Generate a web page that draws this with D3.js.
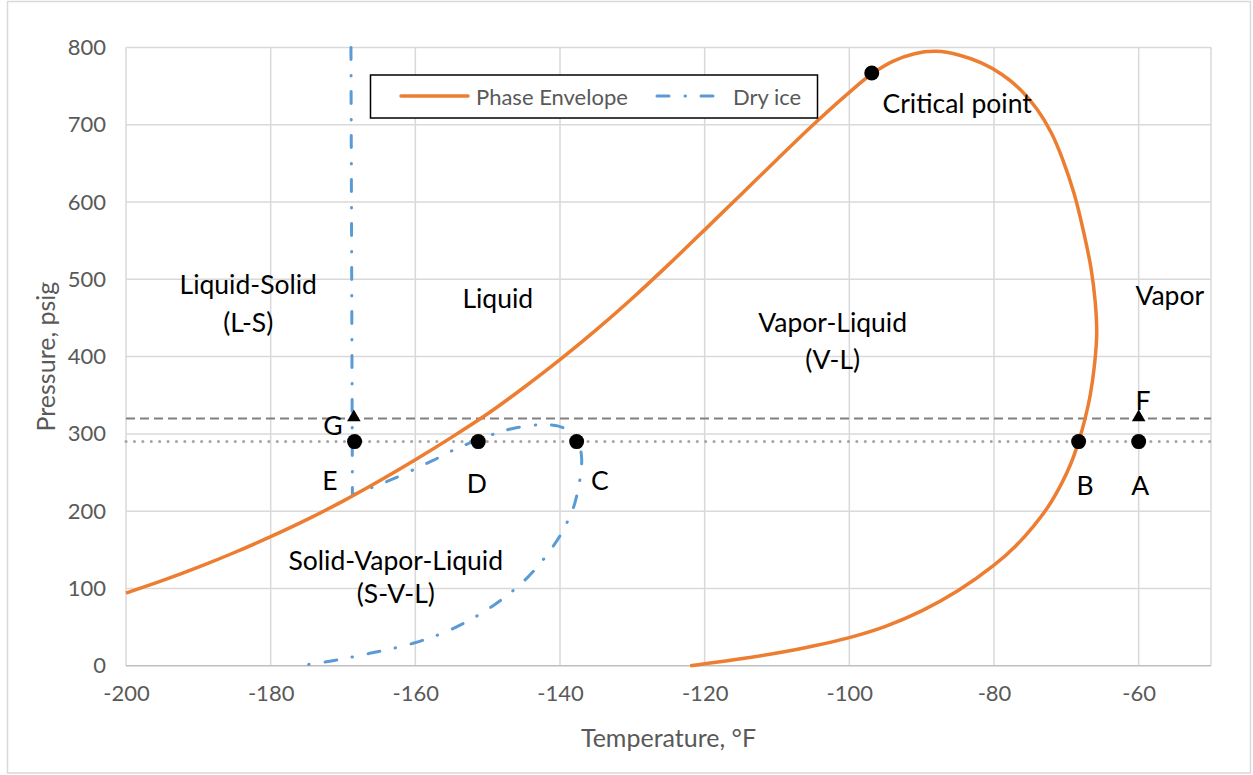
<!DOCTYPE html>
<html>
<head>
<meta charset="utf-8">
<script src="https://cdn.jsdelivr.net/npm/d3@7"></script>
<style>
  html, body { margin: 0; padding: 0; background: #fff; }
  svg { display: block; }
  text { font-family: Lato, "Open Sans", sans-serif; }
</style>
</head>
<body>
<svg id="chart" width="1253" height="775"></svg>
<script>
// CO2-rich mixture phase envelope (temperature °F vs pressure psig),
// bubble-point branch up to the cricondenbar, then dew-point branch back down
const envelopeT = [-200, -195, -190, -185, -180, -175, -170, -165, -160, -155, -150, -145, -140,
  -135, -130, -125, -120, -115, -110, -105, -100, -97, -94, -91, -88, -84.75, -81.75, -78.9,
  -76.3, -74.05, -72.1, -70.5, -68.9, -67.7, -66.6, -66, -65.8, -66.1, -66.7, -67.4, -68.3,
  -69.4, -70.7, -72.5, -74.5, -77, -80, -85, -90, -95, -100, -105, -110, -115, -120, -122];
const envelopeP = [94, 110, 127.5, 146.5, 167, 189, 213, 239, 266.5, 295.5, 326, 360, 396,
  434.5, 475.5, 519, 564, 609.5, 655, 700, 742, 765, 782, 792, 795, 790, 780, 765,
  745, 720, 690, 655, 610, 565, 515, 470, 430, 390, 350, 320, 290,
  261, 235, 206, 181, 155, 130, 97, 71, 51, 36.4, 25.4, 16.4, 8.9, 2.4, 0];

// Dry ice (solid CO2) boundary
const dryIceT = [-168.9, -168.7, -163.5, -157.7, -154.3, -149.7, -146.5, -143.2, -140.2, -138.4,
  -137.5, -137.0, -137.9, -139.1, -140.7, -144.4, -149.2, -154.8, -160.3, -166.3, -172.3, -176.2];
const dryIceP = [800, 221, 240, 265, 281, 298, 307, 311.5, 310, 301,
  290, 266, 212, 184, 158, 115, 78, 48, 29, 16, 5, 0];

// Operating pressures (psig)
const lowPressure = 290;
const highPressure = 320;

// State points
const circleNames = ["A", "B", "C", "D", "E", "Critical point"];
const circleT = [-60, -68.3, -137.7, -151.3, -168.4, -96.9];
const circleP = [290, 290, 290, 290, 290, 767];
const triangleNames = ["F", "G"];
const triangleT = [-60, -168.5];
const triangleP = [320, 320];

// Text labels placed at (temperature, pressure)
const labelText = ["Liquid-Solid", "(L-S)", "Liquid", "Vapor-Liquid", "(V-L)", "Vapor",
  "Critical point", "Solid-Vapor-Liquid", "(S-V-L)", "G", "E", "D", "C", "B", "A", "F"];
const labelT = [-183.1, -183.1, -148.6, -102.3, -102.3, -55.7,
  -95.4, -162.7, -162.7, -171.4, -171.8, -151.5, -134.5, -67.4, -59.8, -59.4];
const labelP = [494, 445, 476, 445, 397, 480,
  728, 137, 94, 312, 240, 236, 240, 234, 234, 344];
const labelAnchor = ["middle", "middle", "middle", "middle", "middle", "middle",
  "start", "middle", "middle", "middle", "middle", "middle", "middle", "middle", "middle", "middle"];

// Axis ticks
const xTicks = [-200, -180, -160, -140, -120, -100, -80, -60];
const xGrid = [-200, -180, -160, -140, -120, -100, -80, -60, -50];
const yTicks = [0, 100, 200, 300, 400, 500, 600, 700, 800];

const svg = d3.select("#chart");
const W = 1253, H = 775;
const plot = { left: 126, right: 1211, top: 47.5, bottom: 665.7 };

const x = d3.scaleLinear().domain([-200, -50]).range([plot.left, plot.right]);
const y = d3.scaleLinear().domain([0, 800]).range([plot.bottom, plot.top]);

// chart-area border
svg.append("rect")
  .attr("x", 7.5).attr("y", 1.5).attr("width", W - 10).attr("height", H - 3.5)
  .attr("fill", "#fff").attr("stroke", "#d9d9d9").attr("stroke-width", 1.5);

// gridlines
const grid = svg.append("g");
grid.selectAll("line.v").data(xGrid).join("line")
  .attr("x1", d => x(d)).attr("x2", d => x(d))
  .attr("y1", plot.top).attr("y2", plot.bottom)
  .attr("stroke", "#d9d9d9").attr("stroke-width", 1.5);
grid.selectAll("line.h").data(yTicks).join("line")
  .attr("x1", plot.left).attr("x2", plot.right)
  .attr("y1", d => y(d)).attr("y2", d => y(d))
  .attr("stroke", d => d === 0 ? "#bfbfbf" : "#d9d9d9").attr("stroke-width", 1.5);

// axes (labels only, hyphen-minus for negatives)
const fmt = d => String(d);
const xAxis = d3.axisBottom(x).tickValues(xTicks).tickFormat(fmt).tickSize(0).tickPadding(20);
const gx = svg.append("g").attr("transform", `translate(0,${plot.bottom})`).call(xAxis);
gx.select(".domain").remove();
gx.selectAll("text").attr("font-size", 22).attr("fill", "#595959")
  .style("font-family", "Lato, sans-serif");

const yAxis = d3.axisLeft(y).tickValues(yTicks).tickFormat(fmt).tickSize(0).tickPadding(20);
const gy = svg.append("g").attr("transform", `translate(${plot.left},0)`).call(yAxis);
gy.select(".domain").remove();
gy.selectAll("text").attr("font-size", 22).attr("fill", "#595959")
  .style("font-family", "Lato, sans-serif");

// axis titles
svg.append("text")
  .attr("x", (plot.left + plot.right) / 2).attr("y", 737)
  .attr("text-anchor", "middle").attr("dominant-baseline", "central")
  .attr("font-size", 25).attr("fill", "#595959")
  .text("Temperature, °F");
svg.append("text")
  .attr("transform", `translate(45,${(plot.top + plot.bottom) / 2}) rotate(-90)`)
  .attr("text-anchor", "middle").attr("dominant-baseline", "central")
  .attr("font-size", 25).attr("fill", "#595959")
  .text("Pressure, psig");

// reference pressure lines
svg.append("line")
  .attr("x1", plot.left).attr("x2", plot.right)
  .attr("y1", y(highPressure)).attr("y2", y(highPressure))
  .attr("stroke", "#808080").attr("stroke-width", 2).attr("stroke-dasharray", "9 5");
svg.append("line")
  .attr("x1", plot.left).attr("x2", plot.right)
  .attr("y1", y(lowPressure)).attr("y2", y(lowPressure))
  .attr("stroke", "#a6a6a6").attr("stroke-width", 3)
  .attr("stroke-linecap", "round").attr("stroke-dasharray", "0.1 8.3");

// curves
const smooth = d3.line().x(d => x(d[0])).y(d => y(d[1])).curve(d3.curveCatmullRom.alpha(0.5));
const straight = d3.line().x(d => x(d[0])).y(d => y(d[1]));
const envelope = envelopeT.map((t, i) => [t, envelopeP[i]]);
const dryIce = dryIceT.map((t, i) => [t, dryIceP[i]]);

// dry-ice boundary: straight solid/liquid line, then smooth sublimation/melting curve
const dryPath = straight(dryIce.slice(0, 2)) + "L" + smooth(dryIce.slice(1)).slice(1);
svg.append("path").attr("d", dryPath)
  .attr("fill", "none").attr("stroke", "#5b9bd5").attr("stroke-width", 3)
  .attr("stroke-linecap", "round").attr("stroke-dasharray", "12 16 0.5 15.5");
svg.append("path").datum(envelope).attr("d", smooth)
  .attr("fill", "none").attr("stroke", "#ed7d31").attr("stroke-width", 3.5)
  .attr("stroke-linejoin", "round");

// markers
svg.selectAll("circle.pt").data(circleNames).join("circle")
  .attr("cx", (d, i) => x(circleT[i])).attr("cy", (d, i) => y(circleP[i]))
  .attr("r", 7.5).attr("fill", "#000");
const tri = d3.symbol().type(d3.symbolTriangle).size(80);
svg.selectAll("path.tri").data(triangleNames).join("path")
  .attr("transform", (d, i) => `translate(${x(triangleT[i])},${y(triangleP[i]) - 1})`)
  .attr("d", tri).attr("fill", "#000");

// region and point labels
svg.selectAll("text.lbl").data(labelText).join("text")
  .attr("x", (d, i) => x(labelT[i])).attr("y", (d, i) => y(labelP[i]))
  .attr("text-anchor", (d, i) => labelAnchor[i]).attr("dominant-baseline", "central")
  .attr("font-size", 26.5).attr("fill", "#000")
  .text(d => d);

// legend
const lg = svg.append("g");
lg.append("rect").attr("x", 370.5).attr("y", 75).attr("width", 447).attr("height", 43)
  .attr("fill", "#fff").attr("stroke", "#000").attr("stroke-width", 1.5);
lg.append("line").attr("x1", 401).attr("x2", 468).attr("y1", 96).attr("y2", 96)
  .attr("stroke", "#ed7d31").attr("stroke-width", 3.5).attr("stroke-linecap", "round");
lg.append("text").attr("x", 476).attr("y", 96).attr("dominant-baseline", "central")
  .attr("font-size", 22).attr("fill", "#595959").text("Phase Envelope");
lg.append("line").attr("x1", 657).attr("x2", 714).attr("y1", 96).attr("y2", 96)
  .attr("stroke", "#5b9bd5").attr("stroke-width", 3).attr("stroke-linecap", "round")
  .attr("stroke-dasharray", "12 16 0.5 15.5");
lg.append("text").attr("x", 733).attr("y", 96).attr("dominant-baseline", "central")
  .attr("font-size", 22).attr("fill", "#595959").text("Dry ice");
</script>
</body>
</html>
